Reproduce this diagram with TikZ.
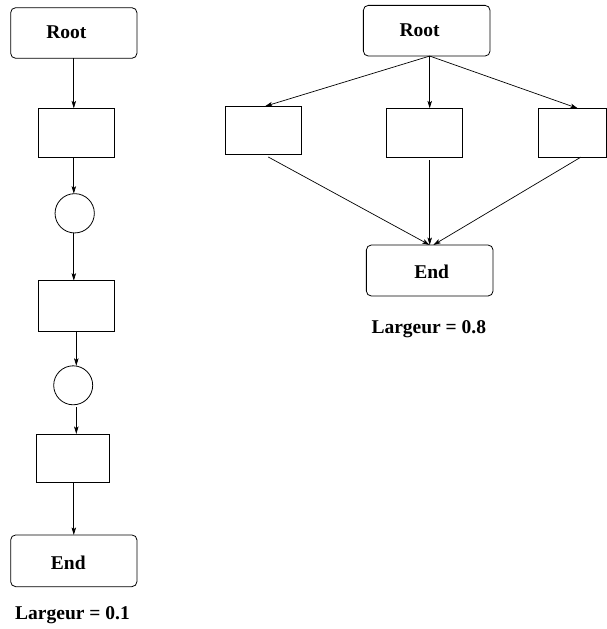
\documentclass[tikz,border=0pt]{standalone}
\usepackage{fontspec}
\setmainfont{Liberation Serif}
\usetikzlibrary{arrows.meta}
\begin{document}
\begin{tikzpicture}[x=1pt,y=-1pt,
  every node/.style={inner sep=0pt,outer sep=0pt},
  rbox/.style={draw,line width=0.8pt,rounded corners=5pt},
  pbox/.style={draw,line width=0.8pt,rectangle},
  circ/.style={draw,line width=0.8pt,circle},
  txt/.style={anchor=base,font=\fontsize{19.5}{22}\selectfont\bfseries},
  arr/.style={line width=0.7pt,-{Stealth[length=7.5pt,width=4.5pt,inset=1.8pt]}}]
\useasboundingbox (0,0) rectangle (607,629);
% left column
\node[rbox,minimum width=126.3pt,minimum height=50.6pt] (rootL) at (73.8,33) {};
\node[txt] (rootLt) at (66.3,38.3) {Root};
\node[pbox,minimum width=76pt,minimum height=48.7pt] (r1) at (76.3,132.7) {};
\node[circ,minimum size=39.3pt] (c1) at (74.7,213.3) {};
\node[pbox,minimum width=76pt,minimum height=50.3pt] (r2) at (76.3,305.8) {};
\node[circ,minimum size=39pt] (c2) at (73.2,385.3) {};
\node[pbox,minimum width=73.3pt,minimum height=48.7pt] (r3) at (72.7,458.3) {};
\node[rbox,minimum width=126.3pt,minimum height=51.7pt] (endL) at (73.8,560.8) {};
\node[txt] (endLt) at (68.3,569.3) {End};
\node[txt] (labL) at (72.5,619.3) {Largeur = 0.1};
\draw[arr] (rootL.south) -- (rootL.south |- r1.north);
\draw[arr] (rootL.south |- r1.south) -- (rootL.south |- c1.north);
\draw[arr] (rootL.south |- c1.south) -- (rootL.south |- r2.north);
\draw[arr] (r2.south) -- (r2.south |- c2.north);
\draw[arr] ([yshift=-2pt]r2.south |- c2.south) -- (r2.south |- r3.north);
\draw[arr] (endL.north |- r3.south) -- (endL.north);
% right diagram
\node[rbox,minimum width=126.7pt,minimum height=50.7pt] (rootR) at (426.7,30.7) {};
\node[txt] (rootRt) at (419.7,36) {Root};
\node[pbox,minimum width=76pt,minimum height=48pt] (ra) at (263,130.3) {};
\node[pbox,minimum width=76pt,minimum height=48.7pt] (rb) at (424.3,132.7) {};
\node[pbox,minimum width=68.5pt,minimum height=48.7pt] (rc) at (572.25,132.7) {};
\node[rbox,minimum width=126.7pt,minimum height=51pt] (endR) at (429.7,270.5) {};
\node[txt] (endRt) at (431.7,278.3) {End};
\node[txt] (labR) at (428.8,333.3) {Largeur = 0.8};
\coordinate (o) at (endR.north |- rootR.south);
\draw[arr] (o) -- ([xshift=2pt]ra.north);
\draw[arr] (o) -- (o |- rb.north);
\draw[arr] (o) -- ([xshift=5.5pt]rc.north);
\draw[arr] ([xshift=5.3pt,yshift=-2.7pt]ra.south) -- (endR.north);
\draw[arr] ([yshift=-3pt]o |- rb.south) -- (endR.north);
\draw[arr] ([xshift=8.75pt]rc.south) -- ([xshift=3.6pt]endR.north);
\end{tikzpicture}
\end{document}
